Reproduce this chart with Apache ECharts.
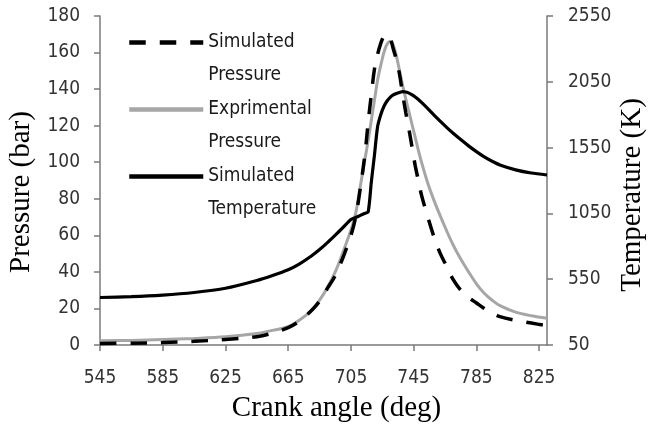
<!DOCTYPE html>
<html>
<head>
<meta charset="utf-8">
<script src="https://cdn.jsdelivr.net/npm/echarts@6/dist/echarts.min.js"></script>
<style>html,body{margin:0;padding:0;background:#fff;}#chart{width:649px;height:428px;}</style>
</head>
<body>
<div id="chart"></div>
<script>
// Crank angle samples (deg)
const crankAngle = [545,565,585,605,625,645,655,665,672,680,685,690,695,700,705,708,711,714,716,718,720,722,724,726,728,730,732,734,736,738,740,742,744,746,748,750,754,758,762,766,770,775,780,785,790,795,800,810,820,830];
// Simulated pressure (bar)
const simPressure = [0.8,1,1.3,2,3,4.5,6.5,9.5,13,19,24,31,38,48,60,70,86,105,122,137,151,159,165,169,170,168,162,156,148,137,127,118,108,98,90,82,70,59,50,43,36,30,26,23,20,17.5,15.5,13.5,12,10.5];
// Experimental pressure (bar)
const expPressure = [2.3,2.5,3,3.6,4.5,6.3,8,10,13.5,19,24.5,31.5,40,51,63,72,87,102,112,123,134,145,153,160,164.5,166,164,158,150,142,134.5,127.5,120.5,113.5,106.5,100,88.5,79,70.5,62.5,55,47,40,33.5,28.3,24.5,21.5,18,16,14.6];
// Simulated temperature (K)
const simTemperature = [411,417,429,449,481,540,578,622,665,728,775,828,885,944,1003,1019,1035,1051,1062,1290,1495,1710,1800,1862,1904,1932,1950,1961,1969,1975,1972,1964,1951,1935,1915,1893,1846,1797,1750,1704,1661,1611,1563,1519,1479,1446,1418,1381,1357,1342];

const xTicks = [545,585,625,665,705,745,785,825];
const pTicks = [0,20,40,60,80,100,120,140,160,180];
const tTicks = [50,550,1050,1550,2050,2550];

const seriesNames = ['Simulated\nPressure','Exprimental\nPressure','Simulated\nTemperature'];

const pair = arr => crankAngle.map((a,i)=>[a, arr[i]]);

const axisColor = '#7a7a7a';
const tickFont = {fontFamily:'DejaVu Sans Condensed, DejaVu Sans', fontSize:19, color:'#333', formatter: v => String(v)};
const titleFont = 'Liberation Serif';

const chart = echarts.init(document.getElementById('chart'), null, {renderer:'canvas'});
chart.setOption({
  animation:false,
  backgroundColor:'#fff',
  grid:{left:100, right:102, top:16, bottom:83, containLabel:false},
  legend:{
    orient:'vertical',
    left:127, top:-7, padding:0,
    itemWidth:74, itemHeight:14, itemGap:-32,
    data: seriesNames,
    formatter: n => ' \n' + n,
    textStyle:{fontFamily:'DejaVu Sans Condensed, DejaVu Sans', fontSize:19, color:'#1a1a1a', lineHeight:33},
    itemStyle:{opacity:0, borderWidth:0},
    lineStyle:{width:4.5}
  },
  xAxis:{
    type:'value', min:545, max:830,
    axisLine:{show:true, onZero:false, lineStyle:{color:axisColor, width:1.5}},
    axisTick:{show:true, inside:false, length:6, customValues:xTicks, lineStyle:{color:axisColor, width:1.5}},
    axisLabel:{customValues:xTicks, margin:24, ...tickFont},
    splitLine:{show:false}
  },
  yAxis:[{
    type:'value', min:0, max:180, interval:20, position:'left',
    axisLine:{show:true, lineStyle:{color:axisColor, width:1.5}},
    axisTick:{show:true, inside:false, length:6, customValues:pTicks, lineStyle:{color:axisColor, width:1.5}},
    axisLabel:{customValues:pTicks, margin:20, ...tickFont},
    splitLine:{show:false}
  },{
    type:'value', min:50, max:2550, position:'right',
    axisLine:{show:true, lineStyle:{color:axisColor, width:1.5}},
    axisTick:{show:true, inside:false, length:6, customValues:tTicks, lineStyle:{color:axisColor, width:1.5}},
    axisLabel:{customValues:tTicks, margin:21, ...tickFont},
    splitLine:{show:false}
  }],
  series:[{
    name:seriesNames[0], type:'line', yAxisIndex:0, z:3,
    data:pair(simPressure), symbol:'none', smooth:0.35,
    lineStyle:{color:'#000', width:3.5, type:[16.5,14]}, itemStyle:{color:'#000'}
  },{
    name:seriesNames[1], type:'line', yAxisIndex:0, z:2,
    data:pair(expPressure), symbol:'none', smooth:0.35,
    lineStyle:{color:'#a6a6a6', width:3}, itemStyle:{color:'#a6a6a6'}
  },{
    name:seriesNames[2], type:'line', yAxisIndex:1, z:4,
    data:pair(simTemperature), symbol:'none', smooth:0.25,
    lineStyle:{color:'#000', width:3.2}, itemStyle:{color:'#000'}
  }],
  graphic:[
    {type:'text', x:336.5, y:408, style:{text:'Crank angle (deg)', fontFamily:titleFont, fontSize:29, fill:'#000', align:'center', verticalAlign:'middle'}},
    {type:'text', x:21, y:192, rotation:Math.PI/2, style:{text:'Pressure (bar)', fontFamily:titleFont, fontSize:29, fill:'#000', align:'center', verticalAlign:'middle'}},
    {type:'text', x:632, y:195, rotation:Math.PI/2, style:{text:'Temperature (K)', fontFamily:titleFont, fontSize:29, fill:'#000', align:'center', verticalAlign:'middle'}}
  ]
});
</script>
</body>
</html>
